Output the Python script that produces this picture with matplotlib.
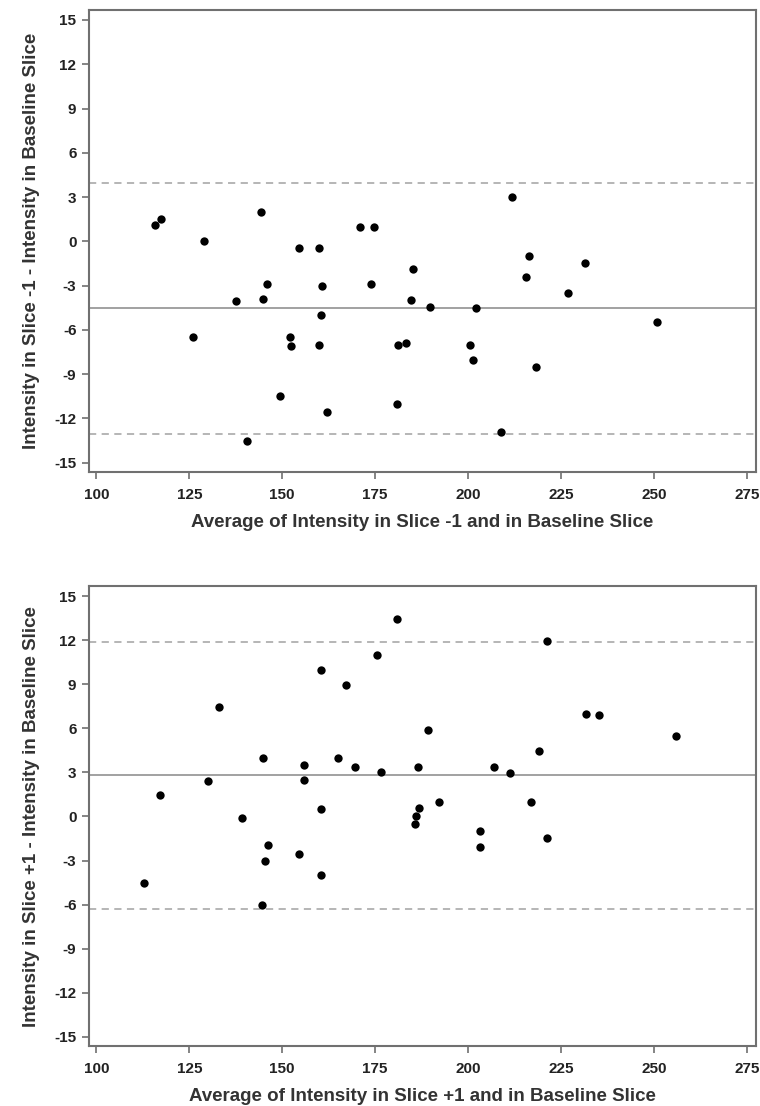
import matplotlib
matplotlib.use('Agg')
import matplotlib.pyplot as plt

# slice -1 vs baseline
avg_minus = [115.7, 117.3, 128.9, 144.3, 154.6, 160.0, 170.8, 174.6, 211.8, 216.4,
             231.4, 185.3, 215.7, 145.9, 160.7, 173.8, 137.5, 144.8, 160.4, 126.0,
             152.0, 152.4, 159.8, 149.3, 162.1, 140.6, 184.6, 189.7, 202.1, 226.8,
             250.8, 181.2, 183.2, 200.4, 201.4, 218.2, 180.8, 208.9]
diff_minus = [1.1, 1.5, 0.0, 2.0, -0.45, -0.45, 1.0, 1.0, 3.0, -1.0,
              -1.5, -1.9, -2.45, -2.9, -3.0, -2.9, -4.05, -3.9, -5.0, -6.5,
              -6.5, -7.1, -7.0, -10.45, -11.6, -13.5, -3.95, -4.45, -4.55, -3.5,
              -5.45, -7.0, -6.9, -7.0, -8.05, -8.55, -11.0, -12.95]
mean_minus = -4.5
loa_minus = [3.95, -13.05]

# slice +1 vs baseline
avg_plus = [117.2, 130.1, 133.1, 139.3, 144.9, 155.8, 155.9, 160.3, 160.3, 167.2,
            165.0, 169.5, 175.6, 176.5, 181.0, 221.3, 231.7, 235.2, 255.9, 189.1,
            219.0, 186.6, 206.9, 211.4, 192.1, 217.0, 186.8, 186.1, 185.8, 203.1,
            221.3, 203.1, 146.3, 145.4, 154.6, 160.5, 112.8, 144.5]
diff_plus = [1.45, 2.4, 7.45, -0.1, 3.95, 3.5, 2.5, 10.0, 0.5, 8.95,
             3.95, 3.4, 11.0, 3.0, 13.45, 11.95, 7.0, 6.9, 5.5, 5.9,
             4.45, 3.4, 3.4, 2.95, 0.95, 0.95, 0.55, 0.0, -0.5, -1.0,
             -1.5, -2.05, -1.95, -3.0, -2.55, -4.0, -4.5, -6.05]
mean_plus = 2.8
loa_plus = [11.9, -6.3]

xticks = [100, 125, 150, 175, 200, 225, 250, 275]
yticks = [-15, -12, -9, -6, -3, 0, 3, 6, 9, 12, 15]

plt.rcParams['font.family'] = ['Liberation Sans', 'DejaVu Sans']
plt.rcParams['axes.unicode_minus'] = False

fig = plt.figure(figsize=(7.6, 11.06), dpi=100)
ax1 = fig.add_axes([0.117, 0.573, 0.878, 0.418])
ax2 = fig.add_axes([0.117, 0.054, 0.878, 0.416])

panels = [
    (ax1, avg_minus, diff_minus, mean_minus, loa_minus,
     'Average of Intensity in Slice -1 and in Baseline Slice',
     'Intensity in Slice -1 - Intensity in Baseline Slice'),
    (ax2, avg_plus, diff_plus, mean_plus, loa_plus,
     'Average of Intensity in Slice +1 and in Baseline Slice',
     'Intensity in Slice +1 - Intensity in Baseline Slice'),
]

for ax, x, y, m, loa, xl, yl in panels:
    ax.axhline(m, color='#9a9a9a', lw=1.3, zorder=1)
    for v in loa:
        ax.axhline(v, color='#b0b0b0', lw=1.3, ls=(0, (4, 3)), zorder=1)
    ax.scatter(x, y, s=36, color='black', zorder=3, linewidths=0)
    ax.set_xlim(98, 277.5)
    ax.set_ylim(-15.65, 15.68)
    ax.set_xticks(xticks)
    ax.set_yticks(yticks)
    for s in ax.spines.values():
        s.set_color('#707070')
        s.set_linewidth(1.5)
    ax.tick_params(direction='out', length=5, width=1.2, color='#707070',
                   labelsize=11, labelcolor='#222222')
    ax.tick_params(axis='x', pad=6)
    ax.tick_params(axis='y', pad=4)
    for lab in ax.get_xticklabels() + ax.get_yticklabels():
        lab.set_family(['Liberation Sans Narrow', 'Liberation Sans'])
        lab.set_fontweight('bold')
    ax.set_xlabel(xl, fontsize=13.5, fontweight='bold', color='#333333', labelpad=9)
    ax.set_ylabel(yl, fontsize=13.5, fontweight='bold', color='#333333', labelpad=10)

fig.savefig('out.png', dpi=100)
